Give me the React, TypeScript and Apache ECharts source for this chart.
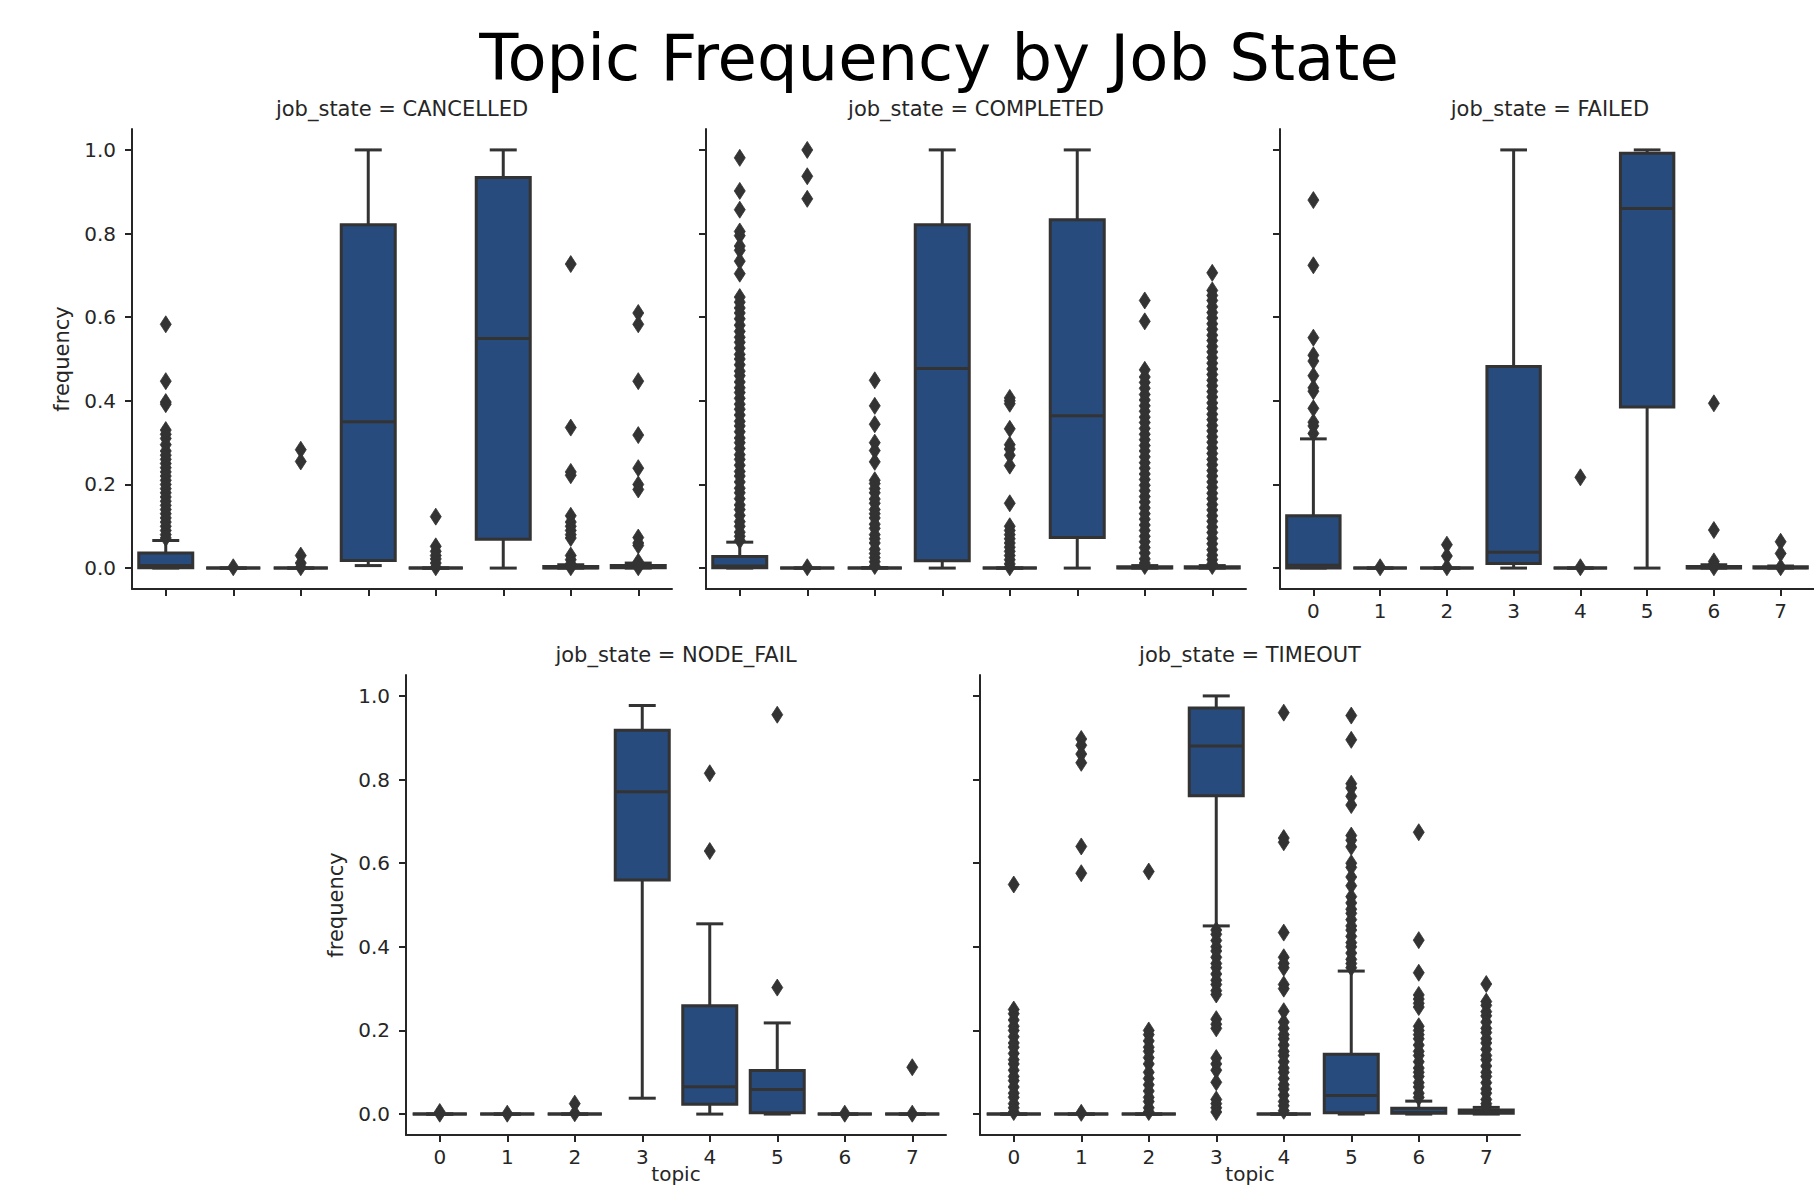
import React, { useEffect, useRef } from "react";
import * as echarts from "echarts";

const TOPICS = ["0", "1", "2", "3", "4", "5", "6", "7"];
const Y_TICKS = [0, 0.2, 0.4, 0.6, 0.8, 1.0];
const TITLE = "Topic Frequency by Job State";
const Y_NAME = "frequency";
const X_NAME = "topic";

// [min, q1, median, q3, max] per topic
const cancelledBoxes = [
  [0, 0.001, 0.006, 0.036, 0.066],
  [0, 0, 0, 0, 0],
  [0, 0, 0, 0, 0],
  [0.006, 0.018, 0.35, 0.821, 1.0],
  [0, 0, 0, 0, 0],
  [0.0, 0.069, 0.549, 0.934, 1.0],
  [0, 0, 0.001, 0.004, 0.008],
  [0, 0.001, 0.003, 0.006, 0.012],
];
const cancelledOutliers = [
  [0.583, 0.447, 0.397, 0.392, 0.33, 0.32, 0.31, 0.295, 0.28, 0.27, 0.26, 0.25, 0.24, 0.23, 0.22, 0.21, 0.2, 0.19, 0.18, 0.17, 0.16, 0.15, 0.14, 0.13, 0.12, 0.11, 0.1, 0.09, 0.08, 0.072],
  [0.002],
  [0.283, 0.255, 0.03, 0.012, 0.002],
  [],
  [0.123, 0.052, 0.04, 0.03, 0.022, 0.012, 0.002],
  [],
  [0.727, 0.336, 0.23, 0.222, 0.125, 0.11, 0.1, 0.09, 0.08, 0.072, 0.03, 0.02, 0.01, 0.002],
  [0.61, 0.583, 0.447, 0.318, 0.239, 0.2, 0.188, 0.073, 0.06, 0.054, 0.015, 0.002],
];

const completedBoxes = [
  [0, 0.001, 0.005, 0.028, 0.062],
  [0, 0, 0, 0, 0],
  [0, 0, 0, 0, 0.001],
  [0.0, 0.0175, 0.477, 0.821, 1.0],
  [0, 0, 0, 0, 0],
  [0.0, 0.073, 0.364, 0.833, 1.0],
  [0, 0, 0.001, 0.003, 0.006],
  [0, 0, 0.001, 0.003, 0.006],
];
const completedOutliers = [
  [0.981, 0.902, 0.857, 0.805, 0.795, 0.77, 0.76, 0.734, 0.704, 0.648, 0.636, 0.622, 0.61, 0.596, 0.581, 0.566, 0.552, 0.54, 0.526, 0.511, 0.5, 0.486, 0.471, 0.46, 0.445, 0.431, 0.42, 0.406, 0.392, 0.38, 0.366, 0.351, 0.34, 0.326, 0.311, 0.3, 0.286, 0.271, 0.26, 0.246, 0.231, 0.22, 0.206, 0.191, 0.18, 0.166, 0.151, 0.14, 0.126, 0.111, 0.1, 0.086, 0.076, 0.066],
  [1.0, 0.937, 0.883, 0.002],
  [0.449, 0.388, 0.344, 0.3, 0.281, 0.254, 0.21, 0.202, 0.19, 0.18, 0.165, 0.155, 0.14, 0.13, 0.12, 0.105, 0.095, 0.08, 0.07, 0.06, 0.045, 0.035, 0.025, 0.015, 0.005],
  [],
  [0.407, 0.4, 0.393, 0.333, 0.295, 0.285, 0.27, 0.245, 0.155, 0.1, 0.09, 0.08, 0.07, 0.06, 0.05, 0.04, 0.03, 0.02, 0.01, 0.002],
  [],
  [0.64, 0.59, 0.474, 0.457, 0.444, 0.43, 0.415, 0.402, 0.388, 0.375, 0.361, 0.348, 0.334, 0.32, 0.307, 0.293, 0.28, 0.266, 0.252, 0.239, 0.225, 0.212, 0.198, 0.185, 0.171, 0.158, 0.144, 0.13, 0.117, 0.103, 0.09, 0.076, 0.063, 0.049, 0.036, 0.022, 0.012, 0.005],
  [0.706, 0.664, 0.652, 0.64, 0.625, 0.611, 0.598, 0.584, 0.571, 0.557, 0.544, 0.53, 0.517, 0.503, 0.49, 0.476, 0.463, 0.449, 0.436, 0.422, 0.409, 0.395, 0.382, 0.368, 0.355, 0.341, 0.328, 0.314, 0.301, 0.287, 0.274, 0.26, 0.247, 0.233, 0.22, 0.206, 0.193, 0.179, 0.166, 0.152, 0.139, 0.125, 0.112, 0.098, 0.085, 0.071, 0.058, 0.044, 0.031, 0.02, 0.01, 0.005],
];

const failedBoxes = [
  [0, 0, 0.007, 0.125, 0.309],
  [0, 0, 0, 0, 0],
  [0, 0, 0, 0, 0],
  [0.0, 0.011, 0.038, 0.482, 1.0],
  [0, 0, 0, 0, 0],
  [0.0, 0.385, 0.86, 0.992, 1.0],
  [0, 0, 0.001, 0.004, 0.008],
  [0, 0, 0.001, 0.003, 0.005],
];
const failedOutliers = [
  [0.88, 0.724, 0.551, 0.509, 0.495, 0.46, 0.431, 0.423, 0.382, 0.349, 0.34, 0.322],
  [0.002],
  [0.056, 0.029, 0.002],
  [],
  [0.217, 0.002],
  [],
  [0.394, 0.091, 0.016, 0.01, 0.002],
  [0.063, 0.035, 0.002],
];

const nodeFailBoxes = [
  [0, 0, 0, 0, 0],
  [0, 0, 0, 0, 0],
  [0, 0, 0, 0, 0],
  [0.038, 0.56, 0.771, 0.918, 0.977],
  [0.0, 0.0235, 0.0655, 0.259, 0.455],
  [0.0, 0.003, 0.059, 0.104, 0.218],
  [0, 0, 0, 0, 0],
  [0, 0, 0, 0, 0],
];
const nodeFailOutliers = [
  [0.005, 0.001],
  [0.001],
  [0.025, 0.002],
  [],
  [0.815, 0.629],
  [0.955, 0.3025],
  [0.001],
  [0.112, 0.001],
];

const timeoutBoxes = [
  [0, 0, 0, 0, 0],
  [0, 0, 0, 0, 0],
  [0, 0, 0, 0, 0],
  [0.45, 0.761, 0.88, 0.971, 1.0],
  [0, 0, 0, 0, 0],
  [0.0, 0.003, 0.0445, 0.143, 0.342],
  [0, 0.002, 0.004, 0.014, 0.031],
  [0, 0.002, 0.005, 0.01, 0.016],
];
const timeoutOutliers = [
  [0.549, 0.25, 0.24, 0.225, 0.21, 0.2, 0.185, 0.17, 0.16, 0.145, 0.13, 0.12, 0.105, 0.09, 0.08, 0.065, 0.05, 0.04, 0.025, 0.015, 0.005],
  [0.897, 0.882, 0.861, 0.84, 0.64, 0.576, 0.003],
  [0.58, 0.2, 0.19, 0.175, 0.16, 0.15, 0.135, 0.12, 0.1, 0.085, 0.07, 0.055, 0.04, 0.03, 0.015, 0.005],
  [0.44, 0.43, 0.415, 0.4, 0.39, 0.375, 0.36, 0.35, 0.335, 0.32, 0.31, 0.295, 0.286, 0.227, 0.215, 0.205, 0.134, 0.12, 0.105, 0.076, 0.035, 0.025, 0.015, 0.005],
  [0.96, 0.66, 0.65, 0.434, 0.375, 0.36, 0.35, 0.31, 0.3, 0.246, 0.22, 0.205, 0.19, 0.18, 0.165, 0.15, 0.14, 0.125, 0.11, 0.1, 0.085, 0.07, 0.06, 0.045, 0.03, 0.02, 0.008],
  [0.953, 0.895, 0.79, 0.78, 0.76, 0.739, 0.666, 0.655, 0.639, 0.6, 0.59, 0.567, 0.546, 0.52, 0.505, 0.49, 0.48, 0.465, 0.45, 0.44, 0.425, 0.41, 0.4, 0.385, 0.37, 0.36, 0.35],
  [0.674, 0.416, 0.338, 0.285, 0.275, 0.265, 0.256, 0.21, 0.2, 0.19, 0.18, 0.165, 0.15, 0.14, 0.125, 0.11, 0.1, 0.09, 0.075, 0.065, 0.05, 0.04],
  [0.311, 0.269, 0.26, 0.245, 0.235, 0.22, 0.205, 0.195, 0.18, 0.17, 0.155, 0.14, 0.13, 0.115, 0.1, 0.09, 0.075, 0.06, 0.05, 0.035, 0.025, 0.018],
];

const PANELS = [
  { state: "CANCELLED", boxes: cancelledBoxes, outliers: cancelledOutliers, left: 132, top: 129, yLabels: true, xLabels: false, xName: false },
  { state: "COMPLETED", boxes: completedBoxes, outliers: completedOutliers, left: 706, top: 129, yLabels: false, xLabels: false, xName: false },
  { state: "FAILED", boxes: failedBoxes, outliers: failedOutliers, left: 1280, top: 129, yLabels: false, xLabels: true, xName: false },
  { state: "NODE_FAIL", boxes: nodeFailBoxes, outliers: nodeFailOutliers, left: 406, top: 675, yLabels: true, xLabels: true, xName: true },
  { state: "TIMEOUT", boxes: timeoutBoxes, outliers: timeoutOutliers, left: 980, top: 675, yLabels: false, xLabels: true, xName: true },
];

const PW = 540;
const PH = 460;
const FONT = "DejaVu Sans";
const INK = "#262626";
const BOX_FILL = "#284b7d";
const EDGE = "#333333";
const LW = 3;

function buildOption() {
  const grid: any[] = [];
  const xAxis: any[] = [];
  const yAxis: any[] = [];
  const series: any[] = [];
  const graphic: any[] = [];

  graphic.push({
    type: "text",
    x: 939,
    y: 58,
    style: { text: TITLE, fontSize: 64, fontFamily: FONT, fill: "#000", textAlign: "center", textVerticalAlign: "middle" },
  });

  PANELS.forEach((p, i) => {
    grid.push({ left: p.left, top: p.top, width: PW, height: PH, containLabel: false });
    xAxis.push({
      type: "category",
      gridIndex: i,
      data: TOPICS,
      boundaryGap: true,
      axisLine: { show: true, onZero: false, lineStyle: { color: INK, width: 2 } },
      axisTick: { show: true, alignWithLabel: true, length: 7, lineStyle: { color: INK, width: 2 } },
      axisLabel: { show: p.xLabels, margin: 12, fontSize: 20, fontFamily: FONT, color: INK },
      splitLine: { show: false },
    });
    yAxis.push({
      type: "value",
      gridIndex: i,
      min: -0.05,
      max: 1.05,
      axisLine: { show: true, lineStyle: { color: INK, width: 2 } },
      axisTick: { show: true, length: 7, customValues: Y_TICKS, lineStyle: { color: INK, width: 2 } },
      axisLabel: {
        show: p.yLabels,
        customValues: Y_TICKS,
        margin: 16,
        fontSize: 20,
        fontFamily: FONT,
        color: INK,
        formatter: (v: number) => v.toFixed(1),
      },
      splitLine: { show: false },
    });

    series.push({
      type: "custom",
      xAxisIndex: i,
      yAxisIndex: i,
      data: p.boxes.map((b, k) => [k, ...b]),
      encode: { x: 0, y: [1, 2, 3, 4, 5] },
      z: 2,
      renderItem: (params: any, api: any) => {
        const x = api.value(0);
        const vals = [1, 2, 3, 4, 5].map((d) => api.value(d));
        const band = api.size([1, 0])[0];
        const bw = band * 0.8;
        const pts = vals.map((v) => api.coord([x, v]));
        const cx = pts[0][0];
        const [yMin, yQ1, yMed, yQ3, yMax] = pts.map((pt: number[]) => pt[1]);
        const ls = { stroke: EDGE, lineWidth: LW, fill: "none" };
        return {
          type: "group",
          children: [
            { type: "line", shape: { x1: cx, y1: yQ1, x2: cx, y2: yMin }, style: ls },
            { type: "line", shape: { x1: cx - bw / 4, y1: yMin, x2: cx + bw / 4, y2: yMin }, style: ls },
            { type: "line", shape: { x1: cx, y1: yQ3, x2: cx, y2: yMax }, style: ls },
            { type: "line", shape: { x1: cx - bw / 4, y1: yMax, x2: cx + bw / 4, y2: yMax }, style: ls },
            {
              type: "rect",
              shape: { x: cx - bw / 2, y: yQ3, width: bw, height: Math.max(0, yQ1 - yQ3) },
              style: { fill: BOX_FILL, stroke: EDGE, lineWidth: LW },
            },
            { type: "line", shape: { x1: cx - bw / 2, y1: yMed, x2: cx + bw / 2, y2: yMed }, style: ls },
          ],
        };
      },
    });

    const pts: number[][] = [];
    p.outliers.forEach((arr, k) => arr.forEach((v) => pts.push([k, v])));
    series.push({
      type: "scatter",
      xAxisIndex: i,
      yAxisIndex: i,
      data: pts,
      symbol: "path://M5,0 L10,8 L5,16 L0,8 Z",
      symbolSize: [11, 17],
      itemStyle: { color: "#333333", borderColor: "#333333", borderWidth: 0.8, opacity: 1 },
      z: 3,
      silent: true,
    });

    const cxPanel = p.left + PW / 2;
    graphic.push({
      type: "text",
      x: cxPanel,
      y: p.top - 20,
      style: { text: "job_state = " + p.state, fontSize: 21, fontFamily: FONT, fill: INK, textAlign: "center", textVerticalAlign: "middle" },
    });
    if (p.yLabels) {
      graphic.push({
        type: "text",
        x: p.left - 70,
        y: p.top + PH / 2,
        rotation: Math.PI / 2,
        style: { text: Y_NAME, fontSize: 21, fontFamily: FONT, fill: INK, textAlign: "center", textVerticalAlign: "middle" },
      });
    }
    if (p.xName) {
      graphic.push({
        type: "text",
        x: cxPanel,
        y: p.top + PH + 29,
        style: { text: X_NAME, fontSize: 20, fontFamily: FONT, fill: INK, textAlign: "center", textVerticalAlign: "top" },
      });
    }
  });

  return {
    animation: false,
    backgroundColor: "#ffffff",
    grid,
    xAxis,
    yAxis,
    series,
    graphic,
  };
}

export default function App() {
  const ref = useRef<HTMLDivElement>(null);
  useEffect(() => {
    document.body.style.margin = "0";
    if (!ref.current) return;
    const chart = echarts.init(ref.current, null, { renderer: "svg" });
    chart.setOption(buildOption());
    return () => chart.dispose();
  }, []);
  return <div ref={ref} style={{ position: "absolute", left: 0, top: 0, width: 1814, height: 1190 }} />;
}
